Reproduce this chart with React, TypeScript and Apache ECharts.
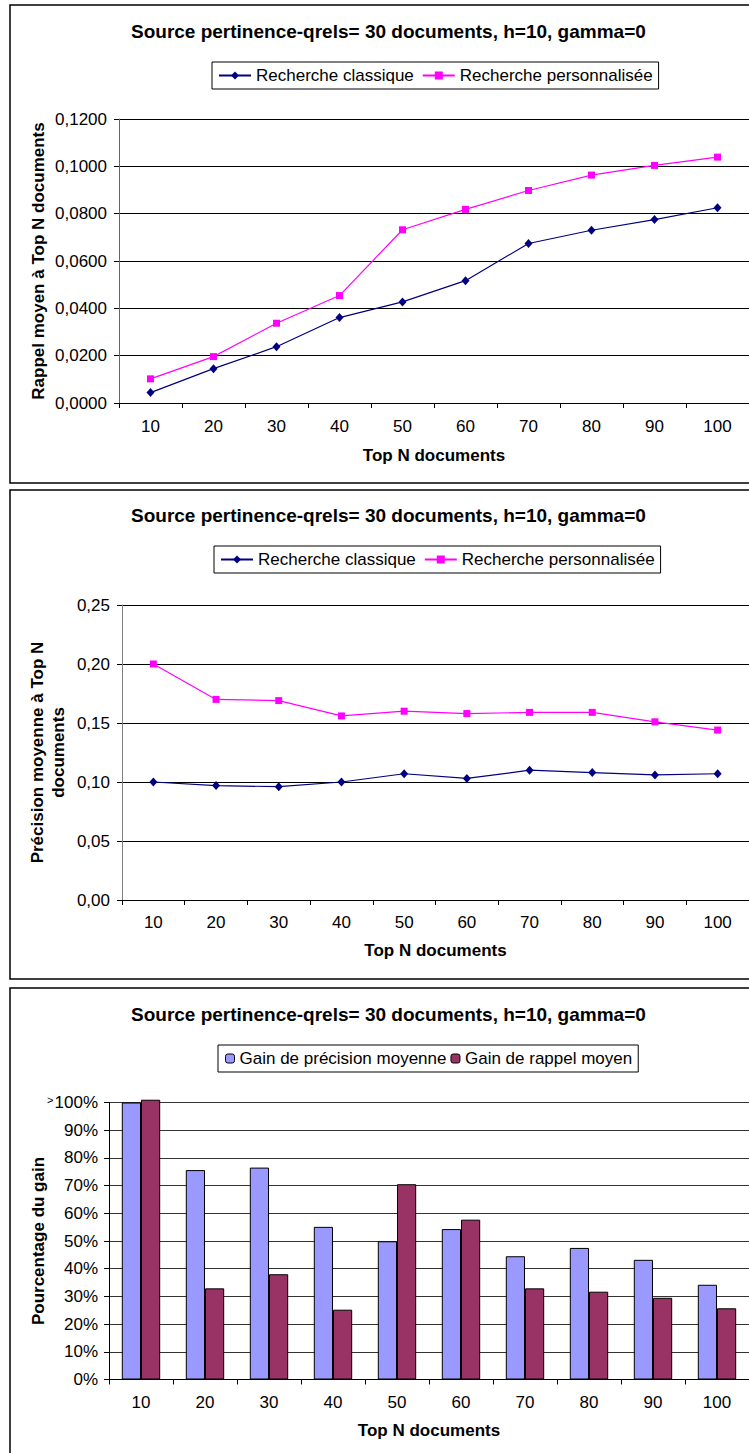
import React, { useEffect, useRef } from "react";
import * as echarts from "echarts";

const categories = ["10", "20", "30", "40", "50", "60", "70", "80", "90", "100"];
const seriesNames = ["Recherche classique", "Recherche personnalisée"];
const barNames = ["Gain de précision moyenne", "Gain de rappel moyen"];
const chartTitle = "Source pertinence-qrels= 30 documents, h=10, gamma=0";

const rappelClassique = [0.0044, 0.0145, 0.0238, 0.0361, 0.0427, 0.0517, 0.0674, 0.073, 0.0775, 0.0825];
const rappelPerso = [0.0102, 0.0196, 0.0337, 0.0454, 0.0732, 0.0818, 0.0898, 0.0963, 0.1004, 0.1039];
const precisionClassique = [0.1, 0.097, 0.096, 0.1, 0.107, 0.103, 0.11, 0.108, 0.106, 0.107];
const precisionPerso = [0.2, 0.17, 0.169, 0.156, 0.16, 0.158, 0.159, 0.159, 0.151, 0.144];
const gainPrecision = [100, 75.6, 76.5, 55.1, 49.9, 54.3, 44.5, 47.5, 43.2, 34.2];
const gainRappel = [101, 32.9, 38.0, 25.2, 70.5, 57.7, 32.9, 31.7, 29.5, 25.7];

const FONT = "'Liberation Sans', Arial, sans-serif";
const NAVY = "#000080";
const MAGENTA = "#FF00FF";
const BLUE = "#9999FF";
const PLUM = "#993366";

export default function App() {
  const ref = useRef<HTMLDivElement>(null);

  useEffect(() => {
    if (!ref.current) return;
    const chart = echarts.init(ref.current, undefined, { renderer: "svg" });

    const axisLabelStyle = { color: "#000", fontSize: 17, fontFamily: FONT };
    const nameStyle = { color: "#000", fontSize: 17, fontWeight: "bold" as const, fontFamily: FONT };

    const makeX = (gridIndex: number, margin: number, nameGap: number) => ({
      type: "category" as const,
      gridIndex,
      data: categories,
      boundaryGap: true,
      axisLine: { show: true, lineStyle: { color: "#000", width: 1 } },
      axisTick: { show: true, inside: false, length: 5, alignWithLabel: false, lineStyle: { color: "#000" } },
      axisLabel: { ...axisLabelStyle, margin },
      splitLine: { show: false },
      name: "Top N documents",
      nameLocation: "middle" as const,
      nameGap,
      nameMoveOverlap: false,
      nameTextStyle: nameStyle,
    });

    const titleBase = (top: number) => ({
      text: chartTitle,
      left: 131,
      top,
      padding: 0,
      textStyle: { color: "#000", fontSize: 19, fontWeight: "bold" as const, fontFamily: FONT },
    });

    const legendBase = (left: number, top: number, names: string[], bar: boolean) => ({
      left,
      top,
      orient: "horizontal" as const,
      data: bar
        ? names.map((n) => ({ name: n, itemStyle: { borderColor: "#000", borderWidth: 1 } }))
        : names,
      borderColor: "#000",
      borderWidth: 1,
      backgroundColor: "#fff",
      padding: bar ? [5, 6, 5, 7] : [5, 6, 5, 6],
      itemGap: bar ? 4 : 8,
      itemWidth: bar ? 9 : 32,
      itemHeight: bar ? 9 : 10,
      textStyle: { color: "#000", fontSize: 17, fontFamily: FONT },
    });

    const option: any = {
      animation: false,
      backgroundColor: "#fff",
      title: [titleBase(22), titleBase(506), titleBase(1005)],
      legend: [
        { ...legendBase(212, 62, seriesNames, false), id: "l0" },
        { ...legendBase(214, 546, seriesNames, false), id: "l1" },
        { ...legendBase(218, 1045, barNames, true), id: "l2" },
      ],
      grid: [
        { left: 119, top: 119, width: 633, height: 284 },
        { left: 122, top: 605, width: 630, height: 295 },
        { left: 109, top: 1102.5, width: 640, height: 277 },
      ],
      xAxis: [makeX(0, 15, 44), makeX(1, 14, 42), makeX(2, 14, 42)],
      yAxis: [
        {
          type: "value",
          gridIndex: 0,
          min: 0,
          max: 0.12,
          interval: 0.02,
          axisLine: { show: true, lineStyle: { color: "#666" } },
          axisTick: { show: true, length: 5, lineStyle: { color: "#000" } },
          axisLabel: { ...axisLabelStyle, margin: 12, formatter: (v: number) => v.toFixed(4).replace(".", ",") },
          splitLine: { show: true, lineStyle: { color: "#000", width: 1 } },
          name: "Rappel moyen à Top N documents",
          nameLocation: "middle",
          nameGap: 72,
          nameMoveOverlap: false,
          nameTextStyle: nameStyle,
        },
        {
          type: "value",
          gridIndex: 1,
          min: 0,
          max: 0.25,
          interval: 0.05,
          axisLine: { show: true, lineStyle: { color: "#808080" } },
          axisTick: { show: true, length: 5, lineStyle: { color: "#000" } },
          axisLabel: { ...axisLabelStyle, margin: 12, formatter: (v: number) => v.toFixed(2).replace(".", ",") },
          splitLine: { show: true, lineStyle: { color: "#000", width: 1 } },
          name: "Précision moyenne à Top N\ndocuments",
          nameLocation: "middle",
          nameGap: 53,
          nameMoveOverlap: false,
          nameTextStyle: { ...nameStyle, lineHeight: 21 },
        },
        {
          type: "value",
          gridIndex: 2,
          min: 0,
          max: 100,
          interval: 10,
          axisLine: { show: true, lineStyle: { color: "#000" } },
          axisTick: { show: true, length: 5, lineStyle: { color: "#000" } },
          axisLabel: {
            ...axisLabelStyle,
            margin: 11,
            formatter: (v: number) => (v === 100 ? "{s|>}100%" : v + "%"),
            rich: { s: { fontSize: 11, fontFamily: FONT, color: "#000", padding: [0, 1, 5, 0] } },
          },
          splitLine: { show: true, lineStyle: { color: "#333", width: 1 } },
          name: "Pourcentage du gain",
          nameLocation: "middle",
          nameGap: 62,
          nameMoveOverlap: false,
          nameTextStyle: nameStyle,
        },
      ],
      series: [
        {
          name: seriesNames[0],
          type: "line",
          xAxisIndex: 0,
          yAxisIndex: 0,
          data: rappelClassique,
          symbol: "diamond",
          symbolSize: [8, 9],
          itemStyle: { color: NAVY },
          lineStyle: { color: NAVY, width: 1.2 },
        },
        {
          name: seriesNames[1],
          type: "line",
          xAxisIndex: 0,
          yAxisIndex: 0,
          data: rappelPerso,
          symbol: "rect",
          symbolSize: 7,
          itemStyle: { color: MAGENTA },
          lineStyle: { color: MAGENTA, width: 1.2 },
        },
        {
          name: seriesNames[0],
          type: "line",
          xAxisIndex: 1,
          yAxisIndex: 1,
          data: precisionClassique,
          symbol: "diamond",
          symbolSize: [8, 9],
          itemStyle: { color: NAVY },
          lineStyle: { color: NAVY, width: 1.2 },
        },
        {
          name: seriesNames[1],
          type: "line",
          xAxisIndex: 1,
          yAxisIndex: 1,
          data: precisionPerso,
          symbol: "rect",
          symbolSize: 7,
          itemStyle: { color: MAGENTA },
          lineStyle: { color: MAGENTA, width: 1.2 },
        },
        {
          name: barNames[0],
          type: "bar",
          xAxisIndex: 2,
          yAxisIndex: 2,
          data: gainPrecision,
          barGap: "0%",
          barCategoryGap: "40%",
          clip: false,
          itemStyle: { color: BLUE, borderColor: "#000", borderWidth: 1 },
        },
        {
          name: barNames[1],
          type: "bar",
          xAxisIndex: 2,
          yAxisIndex: 2,
          data: gainRappel,
          barGap: "0%",
          barCategoryGap: "40%",
          clip: false,
          itemStyle: { color: PLUM, borderColor: "#000", borderWidth: 1 },
        },
      ],
      graphic: [
        { type: "rect", silent: true, shape: { x: 10, y: 5, width: 760, height: 478 }, style: { fill: "none", stroke: "#000", lineWidth: 1.5 } },
        { type: "rect", silent: true, shape: { x: 10, y: 490, width: 760, height: 489 }, style: { fill: "none", stroke: "#000", lineWidth: 1.5 } },
        { type: "rect", silent: true, shape: { x: 10, y: 988, width: 760, height: 480 }, style: { fill: "none", stroke: "#000", lineWidth: 1.5 } },
      ],
    };

    chart.setOption(option);
    return () => chart.dispose();
  }, []);

  return (
    <div
      ref={ref}
      style={{ position: "absolute", left: 0, top: 0, width: 749, height: 1453 }}
    />
  );
}
